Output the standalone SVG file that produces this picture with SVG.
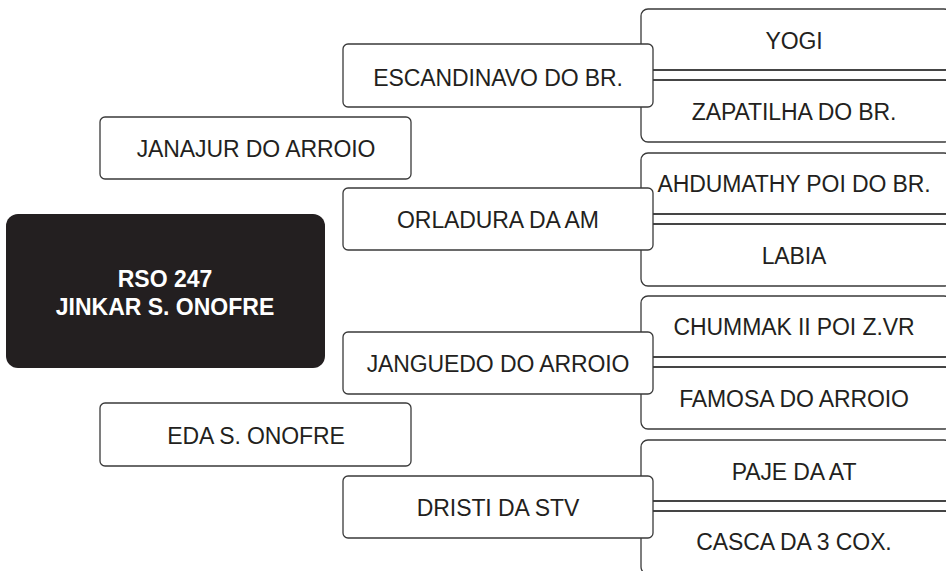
<svg xmlns="http://www.w3.org/2000/svg" width="946" height="571" viewBox="0 0 946 571">
<style>
.box{fill:#fff;stroke:#3a3a3a;stroke-width:1.3}
.rbox{fill:#fff;stroke:#3a3a3a;stroke-width:1.3}
.conn{stroke:#3a3a3a;stroke-width:1.3;fill:none}
.t{font-family:"Liberation Sans",Arial,Helvetica,sans-serif;font-size:23px;fill:#231f20;text-anchor:middle;letter-spacing:-0.1px}
.tb{font-family:"Liberation Sans",Arial,Helvetica,sans-serif;font-size:23px;font-weight:bold;fill:#fff;text-anchor:middle}
</style>
<rect width="946" height="571" fill="#fff"/>
<g id="n-yogi"><rect class="rbox" x="641" y="9" width="310" height="61" rx="7"/><text class="t" x="794" y="49">YOGI</text></g>
<g id="n-zapatilha"><rect class="rbox" x="641" y="80" width="310" height="62" rx="7"/><text class="t" x="794" y="119.5">ZAPATILHA DO BR.</text></g>
<g id="n-ahdumathy"><rect class="rbox" x="641" y="153" width="310" height="61" rx="7"/><text class="t" x="794" y="191.5">AHDUMATHY POI DO BR.</text></g>
<g id="n-labia"><rect class="rbox" x="641" y="224" width="310" height="62" rx="7"/><text class="t" x="794" y="264">LABIA</text></g>
<g id="n-chummak"><rect class="rbox" x="641" y="296" width="310" height="61" rx="7"/><text class="t" x="794" y="335">CHUMMAK II POI Z.VR</text></g>
<g id="n-famosa"><rect class="rbox" x="641" y="367" width="310" height="62" rx="7"/><text class="t" x="794" y="407">FAMOSA DO ARROIO</text></g>
<g id="n-paje"><rect class="rbox" x="641" y="440" width="310" height="61" rx="7"/><text class="t" x="794" y="480">PAJE DA AT</text></g>
<g id="n-casca"><rect class="rbox" x="641" y="511" width="310" height="63" rx="7"/><text class="t" x="794" y="549.5">CASCA DA 3 COX.</text></g>
<g id="connectors">
<path class="conn" d="M653 70H951M653 80H951"/>
<path class="conn" d="M653 214H951M653 224H951"/>
<path class="conn" d="M653 357H951M653 367H951"/>
<path class="conn" d="M653 501H951M653 511H951"/>
</g>
<g id="n-escandinavo"><rect class="box" x="343" y="44" width="310" height="63" rx="5"/><text class="t" x="498" y="86">ESCANDINAVO DO BR.</text></g>
<g id="n-orladura"><rect class="box" x="343" y="188" width="310" height="62" rx="5"/><text class="t" x="498" y="228">ORLADURA DA AM</text></g>
<g id="n-janguedo"><rect class="box" x="343" y="332" width="310" height="62" rx="5"/><text class="t" x="498" y="371.5">JANGUEDO DO ARROIO</text></g>
<g id="n-dristi"><rect class="box" x="343" y="476" width="310" height="62" rx="5"/><text class="t" x="498" y="516">DRISTI DA STV</text></g>
<g id="n-janajur"><rect class="box" x="100" y="117" width="311" height="62" rx="5"/><text class="t" x="256" y="156.5">JANAJUR DO ARROIO</text></g>
<g id="n-eda"><rect class="box" x="100" y="403" width="311" height="63" rx="5"/><text class="t" x="256" y="443.5">EDA S. ONOFRE</text></g>
<g id="n-main"><rect x="6" y="214" width="319" height="154" rx="12" fill="#231f20"/><text class="tb" x="165" y="287">RSO 247</text><text class="tb" x="165" y="315">JINKAR S. ONOFRE</text></g>
</svg>
